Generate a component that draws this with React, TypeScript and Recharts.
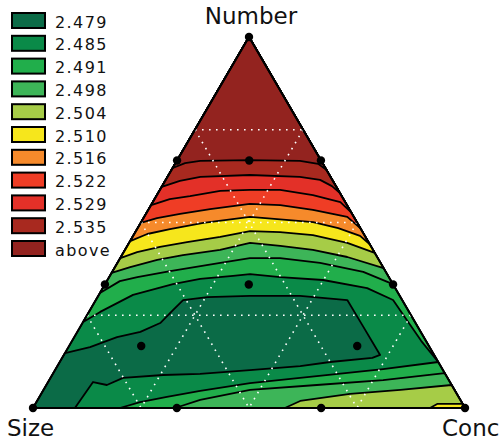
// Mixture response surface (Number / Size / Conc) drawn as a ternary contour map

import { ScatterChart, Scatter, XAxis, YAxis } from 'recharts';

type Comp = [number, number]; // [Number %, Conc %], Size = 100 - Number - Conc

// legend: upper limit of each band, low -> high
const LEVEL_LABELS = ['2.479', '2.485', '2.491', '2.498', '2.504', '2.510', '2.516', '2.522', '2.529', '2.535', 'above'];
const BAND_COLORS = ['#0b6b47', '#0a8a48', '#21ae4b', '#3db558', '#a6cc47', '#f6e61c', '#f68a2b', '#ef3d25', '#e33028', '#a8291f', '#93231f'];

// upper contours, left edge -> right edge
const CONTOUR_2535: Comp[] = [[64.7, 0], [66.0, 2.2], [66.6, 5.4], [66.8, 16.8], [66.6, 28.5], [65.8, 33.1], [64.2, 35.8]];
const CONTOUR_2529: Comp[] = [[59.6, 0], [61.2, 3.4], [62.3, 7.6], [62.8, 18.8], [62.3, 30.6], [61.5, 35.7], [59.8, 39.3], [58.0, 42.0]];
const CONTOUR_2522: Comp[] = [[54.7, 0], [56.3, 3.5], [57.1, 7.8], [58.5, 14.1], [58.8, 20.8], [58.8, 27.8], [57.4, 36.1], [55.5, 43.4], [52.8, 47.2]];
const CONTOUR_2516: Comp[] = [[49.9, 0], [51.2, 3.1], [52.3, 7.9], [53.6, 14.2], [55.0, 22.7], [54.7, 29.9], [53.4, 38.1], [51.5, 47.0], [48.5, 51.5]];
const CONTOUR_2510: Comp[] = [[45.0, 0], [46.9, 3.0], [48.2, 7.6], [49.9, 14.5], [51.5, 24.5], [50.1, 39.8], [48.5, 46.4], [46.4, 52.5], [44.2, 55.8]];
const CONTOUR_2504: Comp[] = [[40.4, 0], [42.0, 3.1], [43.4, 7.7], [44.7, 13.3], [46.1, 20.3], [47.7, 26.4], [47.4, 33.5], [46.6, 41.5], [44.5, 50.5], [41.8, 58.2]];
const CONTOUR_2498: Comp[] = [[36.4, 0], [38.0, 3.5], [39.9, 8.8], [41.2, 14.1], [42.6, 22.0], [44.5, 28.0], [43.7, 35.4], [42.6, 43.5], [40.7, 52.4], [37.7, 62.3]];
const CONTOUR_2491: Comp[] = [[31.0, 0], [34.2, 3.0], [35.3, 6.5], [36.9, 13.3], [39.1, 23.8], [40.4, 30.0], [40.4, 37.0], [39.1, 46.9], [36.7, 58.1], [33.4, 66.6]];
const CONTOUR_2485: Comp[] = [[23.2, 0], [25.9, 2.6], [30.5, 7.9], [33.4, 15.7], [34.8, 21.3], [35.6, 28.5], [36.1, 32.2], [35.3, 39.6], [34.5, 49.9], [32.3, 61.2], [29.1, 68.8], [23.5, 74.9], [18.1, 80.8], [12.4, 87.6]];

// lower contours near the Conc corner, right edge -> bottom edge
const LOW_2485: Comp[] = [[12.4, 87.6], [10.5, 75.8], [8.6, 61.4], [6.7, 46.9], [4.6, 36.4], [3.0, 29.5], [1.6, 24.0], [0, 20.1]];
const LOW_2491: Comp[] = [[9.4, 90.6], [7.5, 77.3], [6.2, 62.6], [4.9, 47.8], [2.2, 37.6], [0, 32.9]];
const LOW_2498: Comp[] = [[6.2, 93.8], [4.9, 82.6], [3.8, 71.5], [1.9, 60.9], [0, 58.3]];
const LOW_2504: Comp[] = [[1.1, 98.9], [1.1, 93.0], [0, 91.9]];

// region below 2.479 (closed, runs into the Size corner)
const MIN_REGION: Comp[] = [
  [14.8, 0], [16.4, 5.0], [19.1, 9.9], [20.5, 14.6], [22.9, 18.0], [26.4, 19.2], [29.1, 20.2], [29.9, 25.4],
  [30.2, 35.1], [30.2, 46.7], [29.1, 58.2], [22.4, 65.0], [14.3, 73.2], [13.5, 71.8], [12.4, 62.6], [11.3, 56.2],
  [10.2, 45.1], [9.2, 34.1], [8.9, 25.7], [8.1, 16.8], [6.2, 14.0], [7.0, 10.4], [0, 9.7], [0, 0],
];

const DESIGN_POINTS: Comp[] = [
  [100, 0], [0, 0], [0, 100], [66.7, 0], [33.3, 0], [66.7, 33.3], [33.3, 66.7],
  [0, 33.3], [0, 66.7], [33.3, 33.3], [66.7, 16.7], [16.7, 16.7], [16.7, 66.7],
];

const GRID_STEPS = [25, 50, 75];

const TOP: Comp = [100, 0];
const SIZE_CORNER: Comp = [0, 0];
const CONC_CORNER: Comp = [0, 100];

const UPPER = [CONTOUR_2485, CONTOUR_2491, CONTOUR_2498, CONTOUR_2504, CONTOUR_2510, CONTOUR_2516, CONTOUR_2522, CONTOUR_2529, CONTOUR_2535];
const LOWER = [LOW_2485, LOW_2491, LOW_2498, LOW_2504];

const toXY = ([n, c]: Comp) => ({ x: c + n / 2, y: n });

const FONT = "'DejaVu Sans', sans-serif";

const noMarker = () => <g />;

const polygonLine = (fill: string, stroke = '#000', width = 1.8) => (p: any) => (
  <polygon
    points={p.points.map((q: any) => `${q.x},${q.y}`).join(' ')}
    fill={fill}
    stroke={stroke}
    strokeWidth={width}
    strokeLinejoin="round"
  />
);

const dottedLine = (p: any) => (
  <polyline
    points={p.points.map((q: any) => `${q.x},${q.y}`).join(' ')}
    fill="none"
    stroke="#ffffff"
    strokeWidth={1.6}
    strokeDasharray="1.6 5.4"
  />
);

const blackDot = (p: any) => <circle cx={p.cx} cy={p.cy} r={4.2} fill="#000" />;

export default function App() {
  // painter's order: whole triangle, then each superlevel set on top
  const regions: { pts: Comp[]; color: string }[] = [{ pts: [TOP, SIZE_CORNER, CONC_CORNER], color: BAND_COLORS[1] }];
  UPPER.forEach((line, k) => {
    regions.push({ pts: [...line, TOP], color: BAND_COLORS[k + 2] });
    if (LOWER[k]) regions.push({ pts: [...LOWER[k], CONC_CORNER], color: BAND_COLORS[k + 2] });
  });
  regions.push({ pts: MIN_REGION, color: BAND_COLORS[0] });

  const grid: Comp[][] = [];
  GRID_STEPS.forEach((v) => {
    grid.push([[v, 0], [v, 100 - v]]); // Number = v
    grid.push([[100 - v, 0], [0, 100 - v]]); // Size = v
    grid.push([[100 - v, v], [0, v]]); // Conc = v
  });

  return (
    <div style={{ position: 'relative', width: 501, height: 443, background: '#fff' }}>
      <style>{'body{margin:0}'}</style>
      <ScatterChart width={501} height={443} margin={{ top: 37, right: 36, bottom: 35, left: 33 }}>
        <XAxis type="number" dataKey="x" domain={[0, 100]} hide />
        <YAxis type="number" dataKey="y" domain={[0, 100]} hide />

        {regions.map((r, i) => (
          <Scatter
            key={`region-${i}`}
            data={r.pts.map(toXY)}
            shape={noMarker}
            line={polygonLine(r.color)}
            isAnimationActive={false}
          />
        ))}

        {grid.map((g, i) => (
          <Scatter key={`grid-${i}`} data={g.map(toXY)} shape={noMarker} line={dottedLine} isAnimationActive={false} />
        ))}

        <Scatter
          data={[TOP, SIZE_CORNER, CONC_CORNER].map(toXY)}
          shape={noMarker}
          line={polygonLine('none', '#000', 1.8)}
          isAnimationActive={false}
        />

        <Scatter data={DESIGN_POINTS.map(toXY)} shape={blackDot} isAnimationActive={false} />
      </ScatterChart>

      <svg width={501} height={443} style={{ position: 'absolute', left: 0, top: 0, pointerEvents: 'none' }}>
        {LEVEL_LABELS.map((label, i) => {
          const top = 12 + i * 22.8;
          return (
            <g key={label}>
              <rect x={12} y={top + 1} width={33} height={15} fill={BAND_COLORS[i]} stroke="#000" strokeWidth={2} />
              <text x={55} y={top + 15.5} fontFamily={FONT} fontSize={16} letterSpacing={1.4} fill="#111">
                {label}
              </text>
            </g>
          );
        })}
        <text x={251} y={24} textAnchor="middle" fontFamily={FONT} fontSize={23} fill="#111">Number</text>
        <text x={7} y={436} fontFamily={FONT} fontSize={23} fill="#111">Size</text>
        <text x={442} y={436} fontFamily={FONT} fontSize={23} fill="#111">Conc</text>
      </svg>
    </div>
  );
}
